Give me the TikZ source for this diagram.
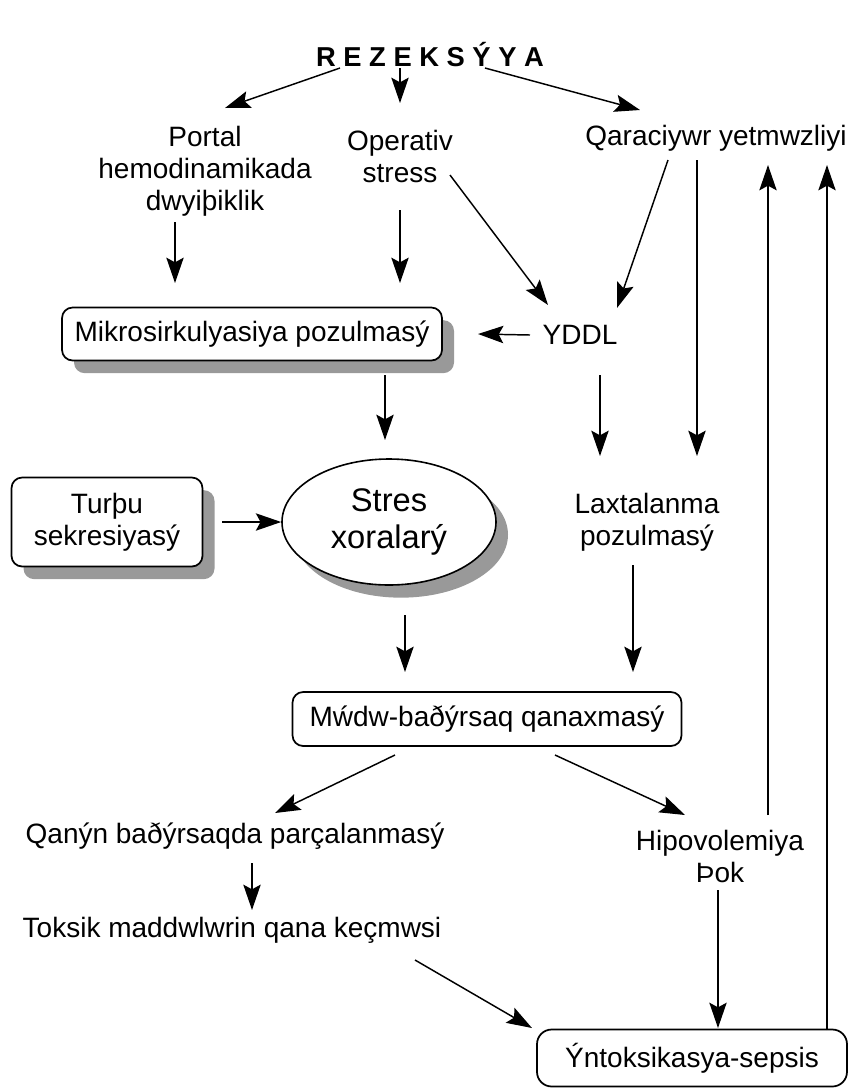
\documentclass[tikz,border=0pt]{standalone}
\usepackage{fontspec}
\setmainfont{Liberation Sans}
\usetikzlibrary{arrows.meta,shapes.geometric,shadows}

\begin{document}
\begin{tikzpicture}[x=0.75pt, y=-0.75pt,
    font=\fontsize{21}{24}\selectfont,
    lbl/.style={align=center, inner sep=0pt},
    box/.style={draw, rounded corners=8pt, line width=1.3pt, fill=white,
                align=center, inner sep=0pt},
    shade/.style={drop shadow={shadow xshift=9pt, shadow yshift=-9.5pt,
                  fill=black!40, opacity=1}},
    flow/.style={-{Stealth[length=19pt, width=13pt, inset=3.5pt]}, line width=1.1pt},
]
\useasboundingbox (0,0) rectangle (851,1090);

% ---- top ----
\node[lbl, font=\fontsize{20.5}{24}\selectfont\bfseries] (title) at (430,55) {R E Z E K S Ý Y A};
\node[lbl] (portal) at (205,171) {Portal\\hemodinamikada\\dwyiþiklik};
\node[lbl] (oper) at (400,156) {Operativ\\stress};
\node[lbl] (qara) at (716,138) {Qaraciywr yetmwzliyi};

% ---- middle ----
\node[box, shade, minimum width=285pt, minimum height=39.75pt] (mikro) at (252,334) {Mikrosirkulyasiya pozulmasý};
\node[lbl] (yddl) at (580,335) {YDDL};
\node[box, shade, minimum width=143.25pt, minimum height=66.75pt] (turpu) at (107,522) {Turþu\\sekresiyasý};
\node[ellipse, draw, line width=1.2pt, fill=white, shade, align=center, inner sep=0pt,
      minimum width=160.5pt, minimum height=94.5pt,
      font=\fontsize{24.5}{27.5}\selectfont] (stres) at (389,522) {Stres\\xoralarý};
\node[lbl] (laxt) at (647,522) {Laxtalanma\\pozulmasý};
\node[box, minimum width=291.75pt, minimum height=40.5pt] (mwdw) at (487,719) {Mẃdw-baðýrsaq qanaxmasý};

% ---- bottom ----
\node[lbl] (qanyn) at (235,836) {Qanýn baðýrsaqda parçalanmasý};
\node[lbl] (toksik) at (232,930) {Toksik maddwlwrin qana keçmwsi};
\node[lbl] (hipo) at (720,856) {Hipovolemiya\\Þok};
\node[box, minimum width=232.5pt, minimum height=42.75pt, rounded corners=11pt] (ynt) at (692,1058) {Ýntoksikasya-sepsis};

% ---- arrows ----
\draw[flow] ([shift={(-90,13)}]title.center) -- ([shift={(20,-63)}]portal.center);
\draw[flow] ([shift={(-30,13)}]title.center) -- ([shift={(0,-53)}]oper.center);
\draw[flow] ([shift={(55,13)}]title.center) -- ([shift={(-76,-28)}]qara.center);
\draw[flow] ([shift={(-30,51)}]portal.center) -- ([shift={(-77,-51)}]mikro.center);
\draw[flow] ([shift={(0,54)}]oper.center) -- ([shift={(148,-51)}]mikro.center);
\draw[flow] ([shift={(50,19)}]oper.center) -- ([shift={(-32,-30)}]yddl.center);
\draw[flow] ([shift={(-48,22)}]qara.center) -- ([shift={(37,-27)}]yddl.center);
\draw[flow] ([shift={(-19,22)}]qara.center) -- ([shift={(50,-66)}]laxt.center);
\draw[flow] ([shift={(-50,0)}]yddl.center) -- ([shift={(226,0)}]mikro.center);
\draw[flow] ([shift={(133,41)}]mikro.center) -- ([shift={(-4,-82)}]stres.center);
\draw[flow] ([shift={(20,40)}]yddl.center) -- ([shift={(-47,-66)}]laxt.center);
\draw[flow] ([shift={(19,0)}]turpu.east) -- (stres.west);
\draw[flow] ([shift={(16,93)}]stres.center) -- ([shift={(-82,-47)}]mwdw.center);
\draw[flow] ([shift={(-14,43)}]laxt.center) -- ([shift={(146,-47)}]mwdw.center);
\draw[flow] ([shift={(-92,36)}]mwdw.center) -- ([shift={(40,-23)}]qanyn.center);
\draw[flow] ([shift={(68,36)}]mwdw.center) -- ([shift={(-35,-41)}]hipo.center);
\draw[flow] ([shift={(17,27)}]qanyn.center) -- ([shift={(20,-20)}]toksik.center);
\draw[flow] ([shift={(183,30)}]toksik.center) -- ([shift={(-160,-30)}]ynt.center);
\draw[flow] ([shift={(-2,34)}]hipo.center) -- ([shift={(26,-30)}]ynt.center);
\draw[flow] ([shift={(48,-41)}]hipo.center) -- ([shift={(52,27)}]qara.center);
\draw[flow] ([shift={(135,-28)}]ynt.center) -- ([shift={(111,27)}]qara.center);
\end{tikzpicture}
\end{document}
